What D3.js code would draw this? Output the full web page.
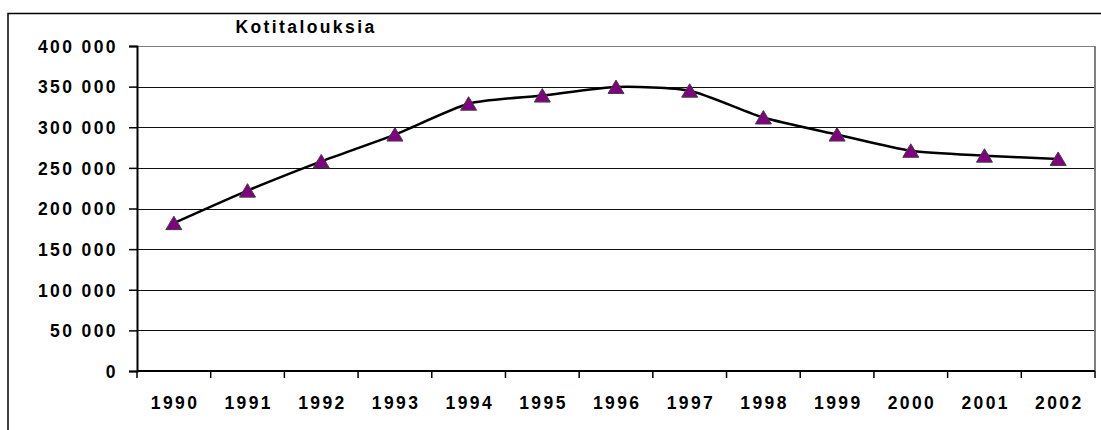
<!DOCTYPE html>
<html>
<head>
<meta charset="utf-8">
<script src="https://cdn.jsdelivr.net/npm/d3@7"></script>
<style>
  body { margin: 0; background: #fff; }
  text { font-family: "Liberation Sans", Arial, sans-serif; font-weight: bold; fill: #000; }
</style>
</head>
<body>
<div id="chart"></div>
<script>
var years = ['1990', '1991', '1992', '1993', '1994', '1995', '1996', '1997', '1998', '1999', '2000', '2001', '2002'];
var households = [182000, 222000, 258000, 291000, 329000, 339000, 349500, 345000, 312000, 291000, 271000, 265000, 261000];
var yTicks = [0, 50000, 100000, 150000, 200000, 250000, 300000, 350000, 400000];
var title = 'Kotitalouksia';

var W = 1101, H = 430;
var margin = {top: 46, right: 6, bottom: 59, left: 137},
    width = W - margin.left - margin.right,
    height = H - margin.top - margin.bottom;

var svg = d3.select('#chart').append('svg')
    .attr('width', W)
    .attr('height', H);

// outer frame (only top and left are inside the picture)
svg.append('path')
    .attr('d', 'M8,' + H + 'V13.5H' + W)
    .attr('fill', 'none')
    .attr('stroke', '#000')
    .attr('stroke-width', 1.5);

svg.append('text')
    .attr('x', 306)
    .attr('y', 33)
    .attr('text-anchor', 'middle')
    .style('font-size', '17.5px')
    .style('letter-spacing', '2.4px')
    .text(title);

var g = svg.append('g')
    .attr('transform', 'translate(' + margin.left + ',' + margin.top + ')');

var x = d3.scaleBand().domain(years).range([0, width]);
var y = d3.scaleLinear().domain([0, 400000]).range([height, 0]);

var fmt = function (d) { return d3.format(',')(d).replace(/,/g, ' '); };

// gridlines
g.selectAll('line.grid')
    .data(yTicks.slice(1))
    .enter()
    .append('line')
    .attr('class', 'grid')
    .attr('x1', 0)
    .attr('x2', width)
    .attr('y1', function (d) { return Math.round(y(d)) + 0.5; })
    .attr('y2', function (d) { return Math.round(y(d)) + 0.5; })
    .attr('stroke', '#111')
    .attr('stroke-width', 1);

// plot area border
g.append('line')
    .attr('x1', width).attr('x2', width)
    .attr('y1', 0).attr('y2', height)
    .attr('stroke', '#808080')
    .attr('stroke-width', 2);
g.append('line')
    .attr('x1', 0).attr('x2', width)
    .attr('y1', 0.5).attr('y2', 0.5)
    .attr('stroke', '#808080')
    .attr('stroke-width', 1);

// y axis
var yAxis = g.append('g')
    .call(d3.axisLeft(y).tickValues(yTicks).tickFormat(fmt).tickSize(8).tickPadding(11));
yAxis.select('.domain').attr('stroke', '#000').attr('stroke-width', 2);
yAxis.selectAll('.tick line').attr('stroke', '#000').attr('stroke-width', 1.5);
yAxis.selectAll('text')
    .style('font-size', '17.5px')
    .style('letter-spacing', '2.4px')
    .attr('dy', '0.36em');

// x axis - ticks on band edges
var xAxis = g.append('g')
    .attr('transform', 'translate(0,' + height + ')');
xAxis.append('line')
    .attr('x1', 0).attr('x2', width)
    .attr('stroke', '#000')
    .attr('stroke-width', 2);
xAxis.selectAll('line.tk')
    .data(years.concat(['end']))
    .enter()
    .append('line')
    .attr('class', 'tk')
    .attr('x1', function (d, i) { return i * x.step(); })
    .attr('x2', function (d, i) { return i * x.step(); })
    .attr('y1', 0)
    .attr('y2', 7)
    .attr('stroke', '#000')
    .attr('stroke-width', 1.5);
xAxis.selectAll('text')
    .data(years)
    .enter()
    .append('text')
    .attr('x', function (d) { return x(d) + x.bandwidth() / 2 + 1.2; })
    .attr('y', 38)
    .attr('text-anchor', 'middle')
    .style('font-size', '17.5px')
    .style('letter-spacing', '2.4px')
    .text(function (d) { return d; });

// smoothed line
var line = d3.line()
    .x(function (d, i) { return x(years[i]) + x.bandwidth() / 2; })
    .y(function (d) { return y(d); })
    .curve(d3.curveCardinal.tension(0.35));

g.append('path')
    .datum(households)
    .attr('d', line)
    .attr('fill', 'none')
    .attr('stroke', '#000')
    .attr('stroke-width', 2.5);

// triangle markers
g.selectAll('path.marker')
    .data(households)
    .enter()
    .append('path')
    .attr('class', 'marker')
    .attr('d', 'M0,-7L8,6.5L-8,6.5Z')
    .attr('transform', function (d, i) {
        return 'translate(' + (x(years[i]) + x.bandwidth() / 2) + ',' + y(d) + ')';
    })
    .attr('fill', '#800080')
    .attr('stroke', '#404040')
    .attr('stroke-width', 1);
</script>
</body>
</html>
